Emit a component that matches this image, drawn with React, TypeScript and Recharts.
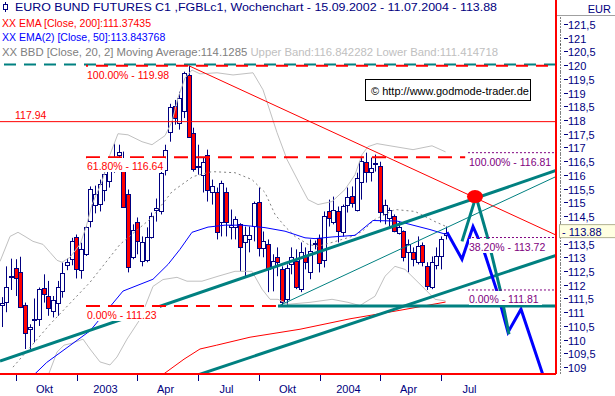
import React from 'react';
import { ComposedChart, Bar, Line, XAxis, YAxis, ReferenceLine, ReferenceDot } from 'recharts';

const NAVY = '#000080';
const RED = '#ff0000';
const BLUE = '#0000ff';
const TEAL = '#008080';
const PURPLE = '#800080';
const BAND = '#c0c0c0';
const FONT = '"Liberation Sans", Arial, sans-serif';

// weekly candles, one per week from 15.09.2002 to 11.07.2004
const open = [
  111.25, 111.37, 112.28, 112.6, 112.48, 111.28, 110.36, 110.73, 110.75, 111.87,
  111.59, 111.05, 111.35, 111.74, 112.72, 112.95, 113.75, 112.56, 113.11, 114.3,
  114.92, 114.96, 115.47, 115.77, 116.56, 116.74, 116.34, 115.32, 113.03, 114.3,
  112.86, 112.9, 113.72, 114.7, 114.68, 116.19, 117.57, 118.52, 117.9, 118.31,
  119.64, 117.53, 116.3, 116.01, 116.74, 115.36, 115.39, 114.3, 115.36, 114.09,
  114.09, 114.2, 113.54, 113.65, 114.12, 115.03, 113.36, 113.47, 112.63, 113.0,
  112.56, 111.47, 112.74, 112.85, 111.84, 113.07, 112.45, 113.5, 113.72, 112.93,
  114.67, 114.3, 114.67, 113.91, 114.92, 115.25, 114.74, 115.76, 116.48, 116.12,
  116.4, 116.34, 114.56, 114.45, 114.49, 113.91, 113.94, 113.18, 113.18, 112.82,
  113.43, 112.67, 111.91, 112.71, 113.03, 113.8,
];
const high = [
  111.55, 112.67, 112.95, 112.93, 113.02, 111.35, 110.56, 111.5, 111.9, 112.38,
  112.14, 111.59, 112.14, 112.81, 112.96, 113.71, 113.83, 113.53, 114.16, 115.58,
  115.61, 115.83, 116.27, 116.56, 117.14, 117.1, 116.85, 115.47, 114.2, 114.45,
  113.76, 114.09, 114.63, 115.14, 116.19, 117.1, 118.59, 118.73, 119.03, 119.76,
  119.98, 117.72, 117.1, 116.63, 116.92, 115.83, 115.54, 115.79, 115.54, 114.74,
  114.49, 114.24, 114.12, 114.12, 115.03, 115.54, 113.94, 113.65, 113.11, 113.36,
  112.67, 112.74, 113.36, 113.29, 113.54, 113.36, 113.65, 113.61, 113.83, 114.67,
  115.1, 115.21, 114.85, 114.92, 115.54, 115.58, 116.08, 116.63, 116.81, 116.63,
  116.74, 116.48, 115.1, 114.81, 114.56, 114.3, 113.98, 113.65, 113.36, 113.76,
  113.54, 112.82, 113.03, 113.36, 113.76, 114.12,
];
const low = [
  110.46, 111.0, 111.81, 111.59, 111.15, 109.66, 109.66, 109.9, 110.5, 111.35,
  110.87, 110.81, 110.87, 111.53, 112.53, 112.71, 112.23, 112.22, 113.05, 114.09,
  114.6, 114.67, 115.04, 115.54, 116.08, 116.37, 114.81, 112.45, 112.93, 113.11,
  112.67, 112.82, 113.68, 114.3, 114.56, 115.98, 117.21, 117.83, 117.65, 118.07,
  117.35, 116.12, 116.01, 115.36, 115.03, 114.92, 113.65, 113.76, 113.76, 113.65,
  113.65, 112.49, 112.31, 113.18, 113.58, 113.03, 113.0, 111.73, 111.76, 112.31,
  111.23, 111.25, 112.38, 111.84, 111.73, 112.56, 112.2, 113.29, 112.45, 112.63,
  114.12, 114.2, 113.54, 113.76, 114.63, 114.81, 114.67, 115.1, 115.72, 115.76,
  116.12, 114.27, 114.2, 114.12, 113.91, 113.83, 112.85, 112.45, 112.67, 112.74,
  112.67, 111.81, 111.84, 112.56, 112.56, 113.65,
];
const close = [
  111.33, 111.93, 112.32, 112.22, 111.19, 110.26, 110.45, 110.77, 111.86, 111.64,
  111.14, 111.44, 111.93, 112.41, 112.84, 113.61, 112.59, 113.31, 114.11, 115.47,
  115.32, 115.68, 116.05, 116.17, 116.66, 116.85, 114.85, 112.67, 114.01, 113.61,
  113.57, 113.73, 114.49, 114.78, 116.07, 116.92, 118.48, 118.08, 118.81, 119.7,
  117.4, 116.22, 116.34, 116.48, 115.47, 115.58, 113.94, 115.72, 114.27, 114.16,
  114.38, 113.36, 113.8, 113.8, 114.96, 113.36, 113.61, 112.56, 112.85, 112.82,
  111.36, 112.6, 113.0, 111.91, 113.18, 112.82, 113.22, 113.52, 112.82, 114.52,
  114.41, 114.74, 113.94, 114.85, 115.21, 115.0, 115.9, 116.52, 116.12, 116.27,
  116.42, 114.67, 114.89, 114.74, 113.94, 114.12, 113.0, 113.47, 112.93, 113.4,
  112.82, 111.94, 112.82, 113.03, 113.65, 113.88,
];

const quarterTicks = [3.0, 16.05, 29.0, 42.05, 55.1, 68.15, 81.0, 94.05];
const quarterLabels = ['Okt', '2003', 'Apr', 'Jul', 'Okt', '2004', 'Apr', 'Jul'];
const lastPrice = 113.88;
const priceTicks = [
  109, 109.5, 110, 110.5, 111, 111.5, 112, 112.5, 113, 113.5, 114, 114.5, 115,
  115.5, 116, 116.5, 117, 117.5, 118, 118.5, 119, 119.5, 120, 120.5, 121, 121.5, lastPrice,
];

// indicator lines, [week, value]
const ema200: [number, number][] = [
  [31.74, 108.39], [34.74, 108.76], [39.02, 109.29], [42.44, 109.66], [46.02, 109.8],
  [53.15, 110.09], [63.85, 110.38], [74.55, 110.76], [85.25, 111.07], [95.0, 111.37],
];
const ema50: [number, number][] = [
  [5.99, 108.57], [9.63, 109.17], [18.9, 110.32], [25.96, 111.77], [32.38, 112.2],
  [35.6, 112.74], [38.16, 113.29], [40.73, 113.91], [44.16, 114.1], [47.8, 114.17],
  [51.44, 114.17], [56.36, 114.08], [60.64, 113.95], [64.92, 113.71], [67.06, 113.68],
  [70.7, 113.74], [75.62, 113.8], [79.47, 114.34], [84.61, 114.32], [91.67, 114.01],
  [95.0, 113.84],
];
const bbUpper: [number, number][] = [
  [-0.36, 112.85], [1.78, 113.76], [3.49, 113.91], [4.99, 113.76], [6.7, 113.58],
  [8.84, 113.47], [10.34, 113.18], [11.84, 112.89], [12.91, 112.82], [14.62, 113.0],
  [16.76, 113.47], [18.04, 114.09], [19.33, 114.92], [21.47, 115.76], [23.18, 116.74],
  [24.89, 117.5], [27.03, 117.46], [30.03, 117.21], [32.17, 117.1], [34.95, 117.43],
  [36.45, 117.94], [37.74, 118.81], [39.23, 119.53], [40.73, 119.82], [42.44, 119.68],
  [46.08, 119.72], [49.51, 119.64], [53.79, 119.72], [55.93, 119.1], [58.93, 117.54],
  [61.07, 116.56], [63.85, 115.65], [65.56, 115.1], [67.7, 114.92], [70.7, 115.03],
  [73.48, 115.47], [75.62, 116.01], [77.12, 116.74], [78.4, 117.03], [80.33, 117.14],
  [83.11, 117.06], [88.04, 116.92], [92.1, 117.06], [95.0, 116.84],
];
const bbMiddle: [number, number][] = [
  [2.42, 109.0], [10.34, 110.56], [18.9, 112.09], [25.32, 113.47], [32.17, 114.45],
  [36.45, 115.39], [40.95, 115.94], [45.01, 116.12], [49.94, 116.08], [53.57, 115.83],
  [56.36, 115.36], [58.5, 114.56], [60.64, 114.12], [62.78, 113.76], [65.56, 113.47],
  [67.7, 113.4], [70.7, 113.54], [74.98, 113.76], [77.12, 113.94], [79.9, 114.38],
  [84.18, 114.74], [88.46, 114.67], [92.74, 114.3], [95.0, 114.13],
];
const bbLower: [number, number][] = [
  [9.27, 108.39], [11.84, 109.55], [13.34, 109.8], [15.05, 109.87], [17.4, 110.02],
  [18.9, 109.66], [21.04, 109.19], [23.18, 109.08], [24.68, 109.37], [26.82, 110.02],
  [29.6, 110.74], [32.38, 111.94], [34.53, 112.19], [37.52, 112.27], [39.66, 112.13],
  [42.87, 112.13], [46.3, 112.31], [49.94, 112.49], [53.57, 112.49], [55.72, 111.84],
  [57.43, 111.47], [59.14, 111.47], [61.28, 111.29], [65.99, 111.36], [70.7, 111.47],
  [74.12, 111.36], [76.69, 111.24], [77.76, 111.36], [79.9, 111.58], [82.04, 112.31],
  [84.18, 112.67], [86.32, 112.56], [88.46, 112.2], [90.6, 111.84], [92.74, 111.47],
  [95.0, 111.41],
];

// drawn trend lines, [week, price] end points
const channelTop: [number, number][] = [[-0.36, 109.22], [118.64, 116.16]];
const channelBottom: [number, number][] = [[41.0, 108.66], [118.64, 113.07]];
const channelInner: [number, number][] = [[59.14, 111.22], [118.64, 115.94]];
const supportLine: [number, number][] = [[59.14, 111.23], [118.64, 111.23]];
const downTrend: [number, number][] = [[40.0, 119.98], [118.64, 113.81]];

// projected paths
const blueScenario: [number, number][] = [
  [95.31, 113.91], [98.52, 112.93], [100.88, 114.12], [103.23, 113.22],
  [106.01, 111.76], [108.37, 110.27], [111.15, 111.11], [116.07, 108.6],
];
const tealScenario: [number, number][] = [
  [98.52, 113.58], [101.52, 115.21], [103.88, 113.8], [106.66, 111.84], [108.58, 110.2],
];
const target: [number, number] = [101.3, 115.21];

const X_DOMAIN: [number, number] = [-0.364, 118.64];
const Y_DOMAIN: [number, number] = [108.75, 122.37];

const pts = (list: [number, number][]) => list.map(([i, v]) => ({ i, v }));
const seg = (list: [number, number][]) => list.map(([x, y]) => ({ x, y }));

const Candle = (props: any) => {
  const { x, y, width, height, payload } = props;
  if (!payload || height == null) return null;
  const cx = Math.round(x + width / 2) + 0.5;
  const k = height / (payload.high - payload.low);
  const yOpen = y + (payload.high - payload.open) * k;
  const yClose = y + (payload.high - payload.close) * k;
  const top = Math.round(Math.min(yOpen, yClose)) + 0.5;
  const h = Math.max(Math.round(Math.abs(yClose - yOpen)), 1);
  const down = payload.close < payload.open;
  return (
    <g>
      <line x1={cx} x2={cx} y1={y} y2={y + height} stroke={NAVY} strokeWidth={1} />
      <rect x={cx - 2} y={top} width={4} height={h} fill={down ? RED : '#fff'} stroke={NAVY} strokeWidth={1} />
    </g>
  );
};

const XTick = (props: any) => {
  const { x, y, payload } = props;
  const idx = quarterTicks.indexOf(payload.value);
  const px = Math.round(x) + 0.5;
  return (
    <g>
      <line x1={px} x2={px} y1={y + 1} y2={y + 7} stroke={NAVY} />
      <text x={px + 28} y={y + 19} textAnchor="middle" fill={NAVY} fontSize={11} fontFamily={FONT}>
        {quarterLabels[idx]}
      </text>
    </g>
  );
};

const YTick = (props: any) => {
  const { x, y, payload } = props;
  const v = payload.value;
  if (v === lastPrice) {
    return (
      <g>
        <rect x={x + 3.5} y={y - 8.5} width={58} height={13} fill="#ffffe1" stroke="#b0b090" />
        <text x={x + 6} y={y + 3} fill={NAVY} fontSize={11} fontFamily={FONT}>- {v.toFixed(2)}</text>
      </g>
    );
  }
  const py = Math.round(y) + 0.5;
  return (
    <g>
      <line x1={x + 4.5} x2={x + 4.5} y1={py - 7} y2={py + 7} stroke="#000" strokeDasharray="1 2" />
      <line x1={x + 8} x2={x + 12} y1={py} y2={py} stroke={NAVY} />
      {v !== 114 && (
        <text x={x + 12} y={py + 4} fill={NAVY} fontSize={11} fontFamily={FONT}>
          {String(v).replace('.', ',')}
        </text>
      )}
    </g>
  );
};

const Tag = (props: any) => {
  const { viewBox, text, color, width, dx = 1, dy = 1, bg = true } = props;
  if (!viewBox) return null;
  const x = Math.round(viewBox.x) + dx;
  const y = Math.round(viewBox.y) + dy;
  return (
    <g>
      {bg && <rect x={x} y={y} width={width} height={14} fill="#fff" />}
      <text x={x} y={y + 11.5} fill={color} fontSize={10.5} fontFamily={FONT}>{text}</text>
    </g>
  );
};

export default function App() {
  const candles = open.map((o, i) => ({
    i,
    open: o,
    high: high[i],
    low: low[i],
    close: close[i],
    range: [low[i], high[i]],
  }));

  return (
    <div style={{ position: 'absolute', left: 0, top: 0, width: 615, height: 396, background: '#fff' }}>
      <ComposedChart width={615} height={396} data={candles} margin={{ top: 0, right: 0, bottom: 0, left: 0 }}>
        <XAxis
          dataKey="i"
          type="number"
          domain={X_DOMAIN}
          allowDataOverflow
          ticks={quarterTicks}
          interval={0}
          tickSize={0}
          tickMargin={0}
          height={22}
          axisLine={{ stroke: RED, strokeWidth: 2 }}
          tick={<XTick />}
        />
        <YAxis
          type="number"
          orientation="right"
          domain={Y_DOMAIN}
          allowDataOverflow
          ticks={priceTicks}
          interval={0}
          tickSize={0}
          tickMargin={0}
          width={59}
          axisLine={{ stroke: RED, strokeWidth: 2 }}
          tick={<YTick />}
        />

        <Bar dataKey="range" barSize={4} shape={(p: any) => <Candle {...p} />} isAnimationActive={false} />

        <Line data={pts(bbUpper)} dataKey="v" type="linear" stroke={BAND} strokeWidth={1} dot={false} activeDot={false} isAnimationActive={false} />
        <Line data={pts(bbLower)} dataKey="v" type="linear" stroke={BAND} strokeWidth={1} dot={false} activeDot={false} isAnimationActive={false} />
        <Line data={pts(bbMiddle)} dataKey="v" type="linear" stroke="#808080" strokeWidth={1} strokeDasharray="2 3" dot={false} activeDot={false} isAnimationActive={false} />
        <Line data={pts(ema200)} dataKey="v" type="linear" stroke={RED} strokeWidth={1} dot={false} activeDot={false} isAnimationActive={false} />
        <Line data={pts(ema50)} dataKey="v" type="linear" stroke={BLUE} strokeWidth={1} dot={false} activeDot={false} isAnimationActive={false} />

        <ReferenceLine y={120.02} stroke={TEAL} strokeWidth={2} strokeDasharray="12 8" ifOverflow="hidden" />
        <ReferenceLine y={117.94} stroke={RED} strokeWidth={1} ifOverflow="hidden"
          label={<Tag text="117.94" color={RED} width={34} dx={15} dy={-15} bg={false} />} />
        <ReferenceLine segment={seg(downTrend)} stroke={RED} strokeWidth={1} ifOverflow="hidden" />
        <ReferenceLine segment={seg(channelTop)} stroke={TEAL} strokeWidth={3} ifOverflow="hidden" />
        <ReferenceLine segment={seg(channelBottom)} stroke={TEAL} strokeWidth={3} ifOverflow="hidden" />
        <ReferenceLine segment={seg(channelInner)} stroke={TEAL} strokeWidth={1} ifOverflow="hidden" />

        <Line data={pts(blueScenario)} dataKey="v" type="linear" stroke={BLUE} strokeWidth={3} dot={false} activeDot={false} isAnimationActive={false} />
        <Line data={pts(tealScenario)} dataKey="v" type="linear" stroke={TEAL} strokeWidth={3} dot={false} activeDot={false} isAnimationActive={false} />
        <ReferenceDot x={target[0]} y={target[1]} r={7} ifOverflow="hidden"
          shape={(p: any) => <ellipse cx={p.cx} cy={p.cy} rx={8} ry={6.5} fill={RED} />} />

        <ReferenceLine segment={seg([[18.04, 119.98], [118.64, 119.98]])} stroke={RED} strokeWidth={2} strokeDasharray="12 8" strokeDashoffset={10} ifOverflow="hidden"
          label={<Tag text="100.00% - 119.98" color={RED} width={84} />} />
        <ReferenceLine segment={seg([[18.04, 116.64], [99.2, 116.64]])} stroke={RED} strokeWidth={2} strokeDasharray="14 8" ifOverflow="hidden"
          label={<Tag text="61.80% - 116.64" color={RED} width={78} />} />
        <ReferenceLine segment={seg([[18.04, 111.23], [59.14, 111.23]])} stroke={RED} strokeWidth={2} strokeDasharray="14 8" ifOverflow="hidden"
          label={<Tag text="0.00% - 111.23" color={RED} width={73} />} />
        <ReferenceLine segment={seg(supportLine)} stroke={TEAL} strokeWidth={3} ifOverflow="hidden" />

        <ReferenceLine segment={seg([[99.8, 116.81], [118.64, 116.81]])} stroke={PURPLE} strokeDasharray="2 2" ifOverflow="hidden"
          label={<Tag text="100.00% - 116.81" color={PURPLE} width={84} />} />
        <ReferenceLine segment={seg([[99.8, 113.72], [118.64, 113.72]])} stroke={PURPLE} strokeDasharray="2 2" ifOverflow="hidden"
          label={<Tag text="38.20% - 113.72" color={PURPLE} width={78} />} />
        <ReferenceLine segment={seg([[99.8, 111.81], [118.64, 111.81]])} stroke={PURPLE} strokeDasharray="2 2" ifOverflow="hidden"
          label={<Tag text="0.00% - 111.81" color={PURPLE} width={73} />} />
      </ComposedChart>

      <svg width={615} height={396} style={{ position: 'absolute', left: 0, top: 0, pointerEvents: 'none' }} fontFamily={FONT} fontSize={10.5}>
        <line x1={557} x2={615} y1={15.5} y2={15.5} stroke="#a0a0a0" />
        <text x={611} y={13} textAnchor="end" fill={NAVY} fontSize={11}>EUR</text>
        <g stroke={NAVY} fill="none">
          <line x1={5.5} y1={2} x2={5.5} y2={12} />
          <rect x={3.5} y={4.5} width={4} height={5} fill="#fff" />
        </g>
        <text x={15} y={11} fill={NAVY} textLength={482} lengthAdjust="spacingAndGlyphs">
          EURO BUND FUTURES C1 ,FGBLc1, Wochenchart - 15.09.2002 - 11.07.2004 - 113.88
        </text>
        <text x={2} y={26.5} fill={RED}>XX EMA [Close, 200]:111.37435</text>
        <text x={2} y={41} fill={BLUE}>XX EMA(2) [Close, 50]:113.843768</text>
        <text x={2} y={55.5} fill="#808080" textLength={496} lengthAdjust="spacingAndGlyphs">
          XX BBD [Close, 20, 2] Moving Average:114.1285 <tspan fill="#c0c0c0">Upper Band:116.842282 Lower Band:111.414718</tspan>
        </text>
        <rect x={365.5} y={79.5} width={165} height={21} fill="#fff" stroke="#000" />
        <text x={371} y={95} fill="#000" fontSize={11}>© http://www.godmode-trader.de</text>
      </svg>
    </div>
  );
}
